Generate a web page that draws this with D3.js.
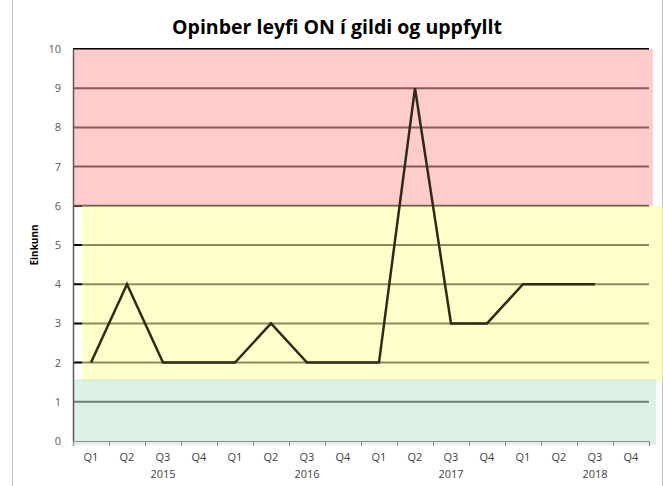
<html>
 <head>
  <title>Opinber leyfi ON</title>
  <script src="https://d3js.org/d3.v7.min.js"></script>
  <style>
   body{margin:0;background:#fff;}
   text{font-family:"Open Sans",Lato,sans-serif;}
  </style>
 </head>
 <body>
  <svg></svg>
  <script>
   var quarters = ["Q1","Q2","Q3","Q4","Q1","Q2","Q3","Q4","Q1","Q2","Q3","Q4","Q1","Q2","Q3","Q4"];
   var years    = ["2015","2016","2017","2018"];
   var scores   = [2,4,2,2, 2,3,2,2, 2,9,3,3, 4,4,4,null];
   var yTicks   = [0,1,2,3,4,5,6,7,8,9,10];
   // colour zones (score ranges)
   var zones = [{from:6,to:10,x0:0,x1:16.11,color:"#ffa2a2"},
                {from:1.52,to:6,x0:0.25,x1:16.5,color:"#ffffa2"},
                {from:-0.1,to:1.58,x0:0,x1:16.2,color:"#c1e7d2"}];

   var svgWidth=663,svgHeight=486;
   var plot={left:73,right:649,top:49,bottom:441};

   var svg=d3.select("svg").attr("width",svgWidth).attr("height",svgHeight);

   // outer border
   svg.append("rect").attr("x",12.5).attr("y",-5).attr("width",650).attr("height",500)
      .attr("fill","none").attr("stroke","#bfbfbf");

   svg.append("text").attr("x",337).attr("y",34).attr("text-anchor","middle")
      .style("font-size","19.5px").style("font-weight","bold").attr("fill","#000")
      .text("Opinber leyfi ON í gildi og uppfyllt");

   var x = d3.scaleLinear().domain([0,quarters.length]).range([plot.left,plot.right]);
   var y = d3.scaleLinear().domain([0,10]).range([plot.bottom,plot.top]);

   // gridlines
   svg.append("g").selectAll("line").data(yTicks.slice(1)).enter().append("line")
      .attr("x1",plot.left).attr("x2",plot.right).attr("y1",d=>y(d)).attr("y2",d=>y(d))
      .attr("stroke","#000").attr("stroke-width",2);

   // zones laid over the grid
   svg.append("g").selectAll("rect").data(zones).enter().append("rect")
      .attr("x",d=>x(d.x0)).attr("width",d=>x(d.x1)-x(d.x0))
      .attr("y",d=>y(d.to)).attr("height",d=>y(d.from)-y(d.to))
      .attr("fill",d=>d.color).attr("opacity",0.55);

   // y axis
   var yAxis = d3.axisLeft(y).tickValues(yTicks).tickSize(0).tickPadding(12);
   var gy = svg.append("g").attr("transform","translate("+plot.left+",0)").call(yAxis);
   gy.select(".domain").attr("stroke","#595959").attr("stroke-width",1.5);
   gy.selectAll("text").attr("fill","#595959").style("font-size","11px")
      .style("font-family","'Open Sans',sans-serif");

   svg.append("text").attr("transform","translate(38,"+y(5)+") rotate(-90)")
      .attr("text-anchor","middle").style("font-size","10px").style("font-weight","bold")
      .text("Einkunn");

   // x axis: ticks between quarters
   var xAxis = d3.axisBottom(x).tickValues(d3.range(quarters.length+1)).tickSize(5).tickFormat("");
   var gx = svg.append("g").attr("transform","translate(0,"+plot.bottom+")").call(xAxis);
   gx.select(".domain").attr("stroke","#8c8c8c").attr("stroke-width",1.2);
   gx.selectAll(".tick line").attr("stroke","#8c8c8c");

   svg.append("g").selectAll("text").data(quarters).enter().append("text")
      .attr("x",(d,i)=>x(i+0.5)).attr("y",461).attr("text-anchor","middle")
      .attr("fill","#404040").style("font-size","11px").text(d=>d);

   svg.append("g").selectAll("text").data(years).enter().append("text")
      .attr("x",(d,i)=>x(i*4+2.5)).attr("y",478).attr("text-anchor","middle")
      .attr("fill","#404040").style("font-size","11px").text(d=>d);

   // score line
   var line = d3.line().defined(d=>d!=null).x((d,i)=>x(i+0.5)).y(d=>y(d));
   svg.append("path").datum(scores).attr("d",line)
      .attr("fill","none").attr("stroke","#2e2a14").attr("stroke-width",2.5)
      .attr("stroke-linejoin","miter");
  </script>
 </body>
</html>
